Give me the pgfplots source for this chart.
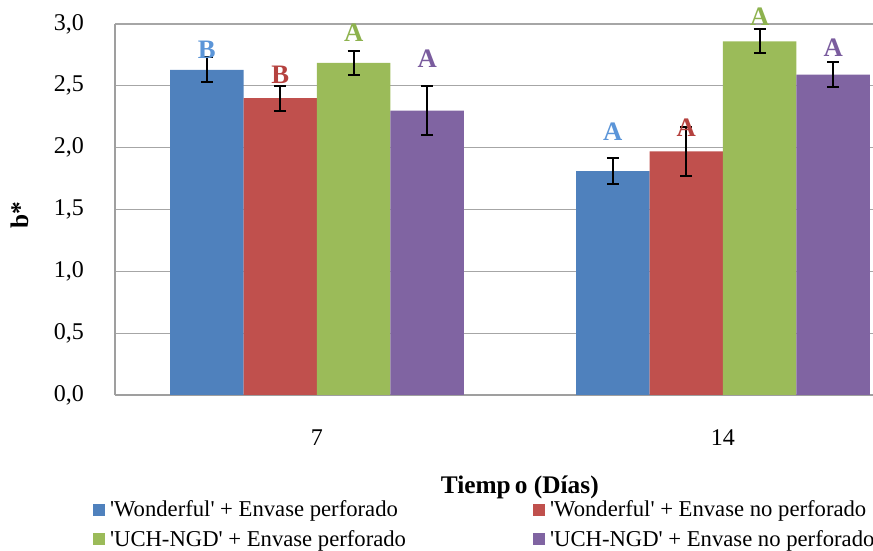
\documentclass[border=0pt]{standalone}
\usepackage{pgfplots}
\pgfplotsset{compat=1.18}
\usepackage{fontspec}
\setmainfont{Liberation Serif}
\definecolor{cblue}{HTML}{4F81BD}
\definecolor{cred}{HTML}{C0504D}
\definecolor{cgreen}{HTML}{9BBB59}
\definecolor{cpurple}{HTML}{8064A2}
\definecolor{lblue}{HTML}{5B95D8}
\definecolor{lred}{HTML}{B5423F}
\definecolor{lgreen}{HTML}{8DB24E}
\definecolor{lpurple}{HTML}{7A5C9E}
\newcommand{\q}{\textquotesingle}
\begin{document}
\begin{tikzpicture}
\begin{axis}[
  scale only axis,
  width=568.5pt, height=278.25pt,
  ybar=0pt, bar width=0.181,
  xmin=-0.4975, xmax=1.3695,
  ymin=0, ymax=3,
  ytick={0,0.5,...,3},
  xtick={0,1}, xticklabels={7,14},
  major tick length=0pt,
  axis x line*=bottom, axis y line*=left,
  axis line style={draw=gray!75, line width=0.9pt},
  ymajorgrids, major grid style={gray!70, line width=0.9pt},
  clip=false,
  /pgf/number format/assume math mode=true,
  /pgf/number format/use comma,
  /pgf/number format/fixed,
  /pgf/number format/fixed zerofill,
  /pgf/number format/precision=1,
  ticklabel style={font=\fontsize{18}{18}\selectfont},
  yticklabel style={anchor=center, xshift=-34.5pt},
  xticklabel style={anchor=center, yshift=-32pt},
  xlabel={\textbf{Tiemp\,o (Días)}},
  xlabel style={at={(axis description cs:0.534,-0.248)}, anchor=center, font=\fontsize{19}{19}\selectfont},
  ylabel={\textbf{b*}},
  ylabel style={at={(axis description cs:-0.126,0.485)}, anchor=center, rotate=0, font=\fontsize{19}{19}\selectfont},
  error bars/y dir=both, error bars/y explicit,
  error bars/error bar style={black, line width=1.5pt},
  error bars/error mark options={rotate=90, mark size=4.5pt, line width=1.5pt, black},
  legend columns=2,
  legend cell align=left,
  legend image code/.code={\path[#1, draw=none] (0pt,-4.5pt) rectangle (9pt,4.5pt);},
  legend style={at={(axis description cs:-0.035,-0.270)}, anchor=north west, draw=none, fill=none,
    font=\fontsize{17}{17}\selectfont, row sep=4.5pt,
    /tikz/every odd column/.append style={column sep=2pt},
    /tikz/every even column/.append style={column sep=93pt}},
]
\addplot[fill=cblue, draw=none] coordinates {(0,2.63) +- (0,0.10) (1,1.81) +- (0,0.105)};
\addplot[fill=cred, draw=none] coordinates {(0,2.40) +- (0,0.10) (1,1.97) +- (0,0.20)};
\addplot[fill=cgreen, draw=none] coordinates {(0,2.685) +- (0,0.10) (1,2.86) +- (0,0.097)};
\addplot[fill=cpurple, draw=none] coordinates {(0,2.30) +- (0,0.20) (1,2.59) +- (0,0.10)};
\legend{\q Wonderful\q{} + Envase perforado, \q Wonderful\q{} + Envase no perforado, \q UCH-NGD\q{} + Envase perforado, \q UCH-NGD\q{} + Envase no perforado}
\begin{scope}[every node/.style={font=\fontsize{20}{20}\selectfont\bfseries}]
\node[text=lblue] at (axis cs:-0.2715,2.79) {B};
\node[text=lred] at (axis cs:-0.0905,2.59) {B};
\node[text=lgreen] at (axis cs:0.0905,2.93) {A};
\node[text=lpurple] at (axis cs:0.2715,2.72) {A};
\node[text=lblue] at (axis cs:0.7285,2.13) {A};
\node[text=lred] at (axis cs:0.9095,2.16) {A};
\node[text=lgreen] at (axis cs:1.0905,3.06) {A};
\node[text=lpurple] at (axis cs:1.2715,2.81) {A};
\end{scope}
\coordinate (BL) at (rel axis cs:0,0);
\coordinate (TR) at (rel axis cs:1,1);
\end{axis}
\pgfresetboundingbox
\path[use as bounding box] ([xshift=-86.25pt,yshift=-117pt]BL) rectangle ([yshift=18pt]TR);
\end{tikzpicture}
\end{document}
